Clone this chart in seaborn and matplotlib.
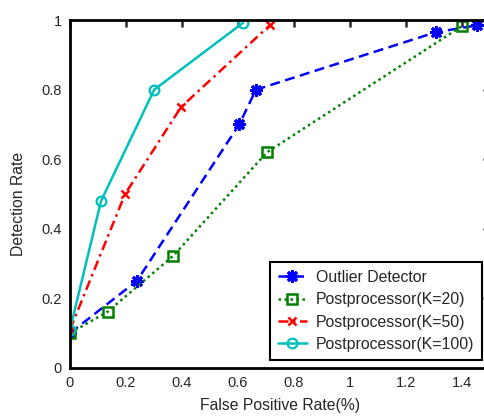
import matplotlib
matplotlib.use("Agg")
import matplotlib.pyplot as plt
import seaborn as sns
import pandas as pd

# Data
od_x = [0.0, 0.239, 0.605, 0.665, 1.307, 1.454]
od_y = [0.10, 0.25, 0.70, 0.80, 0.965, 0.985]
k20_x = [0.0, 0.135, 0.370, 0.704, 1.40]
k20_y = [0.10, 0.162, 0.323, 0.62, 0.982]
k50_x = [0.0, 0.197, 0.397, 0.714]
k50_y = [0.11, 0.50, 0.75, 0.985]
k100_x = [0.0, 0.111, 0.301, 0.618]
k100_y = [0.11, 0.48, 0.80, 0.992]
labels = ["Outlier Detector", "Postprocessor(K=20)", "Postprocessor(K=50)", "Postprocessor(K=100)"]
xticks = [0, 0.2, 0.4, 0.6, 0.8, 1, 1.2, 1.4]
xticklabels = ["0", "0.2", "0.4", "0.6", "0.8", "1", "1.2", "1.4"]
yticks = [0, 0.2, 0.4, 0.6, 0.8, 1]
yticklabels = ["0", "0.2", "0.4", "0.6", "0.8", "1"]

sns.set_style("white")
plt.rcParams['font.family'] = ['Liberation Sans', 'DejaVu Sans']

fig = plt.figure(figsize=(4.85, 4.2), dpi=100)
ax = fig.add_axes([0.1443, 0.124, 0.865, 0.828])

styles = [
    dict(color=(0, 0, 1), linestyle=(0, (4, 2.2)), marker=(8, 2, 0), markersize=9, markeredgewidth=2.2, markerfacecolor=(0, 0, 1)),
    dict(color=(0, 0.5, 0), linestyle=(0, (1.0, 1.4)), marker='s', markersize=7, markerfacecolor='none', markeredgewidth=1.8),
    dict(color=(1, 0, 0), linestyle=(0, (4, 1.8, 1, 1.8)), marker='x', markersize=6, markeredgewidth=1.8),
    dict(color=(0, 0.75, 0.75), linestyle='-', marker='o', markersize=7, markerfacecolor='none', markeredgewidth=1.6),
]
data = [(od_x, od_y), (k20_x, k20_y), (k50_x, k50_y), (k100_x, k100_y)]
handles = []
for (xs, ys), st, lab in zip(data, styles, labels):
    df = pd.DataFrame({"x": xs, "y": ys})
    n_before = len(ax.lines)
    sns.lineplot(data=df, x="x", y="y", ax=ax, sort=False, linewidth=1.8, color=st["color"])
    line = ax.lines[n_before]
    line.set_linestyle(st["linestyle"])
    line.set_marker(st["marker"])
    line.set_markersize(st["markersize"])
    line.set_markeredgewidth(st["markeredgewidth"])
    line.set_markeredgecolor(st["color"])
    line.set_markerfacecolor(st.get("markerfacecolor", st["color"]))
    line.set_label(lab)
    handles.append(line)

ax.set_xlim(0, 1.5)
ax.set_ylim(0, 1)
ax.set_xticks(xticks)
ax.set_xticklabels(xticklabels)
ax.set_yticks(yticks)
ax.set_yticklabels(yticklabels)
ax.tick_params(direction='in', length=5, width=1.8, labelsize=10.5, top=True, right=True, pad=6)
for s in ax.spines.values():
    s.set_linewidth(2)
    s.set_color('black')
ax.set_xlabel("False Positive Rate(%)", fontsize=11.3)
ax.set_ylabel("Detection Rate", fontsize=11.3)
ax.xaxis.set_label_coords(0.5, -0.087)
ax.yaxis.set_label_coords(-0.106, 0.471)
leg = ax.legend(handles=handles, labels=labels, loc='lower right', fontsize=11.4, frameon=True, fancybox=False,
                framealpha=1, edgecolor='black', handlelength=1.85, labelspacing=0.47,
                borderpad=0.5, handletextpad=0.55, borderaxespad=0,
                bbox_to_anchor=(412 / (0.865 * 485), 8 / (0.828 * 420)), bbox_transform=ax.transAxes)
leg.get_frame().set_linewidth(1.5)
fig.savefig("out.png", dpi=100)
